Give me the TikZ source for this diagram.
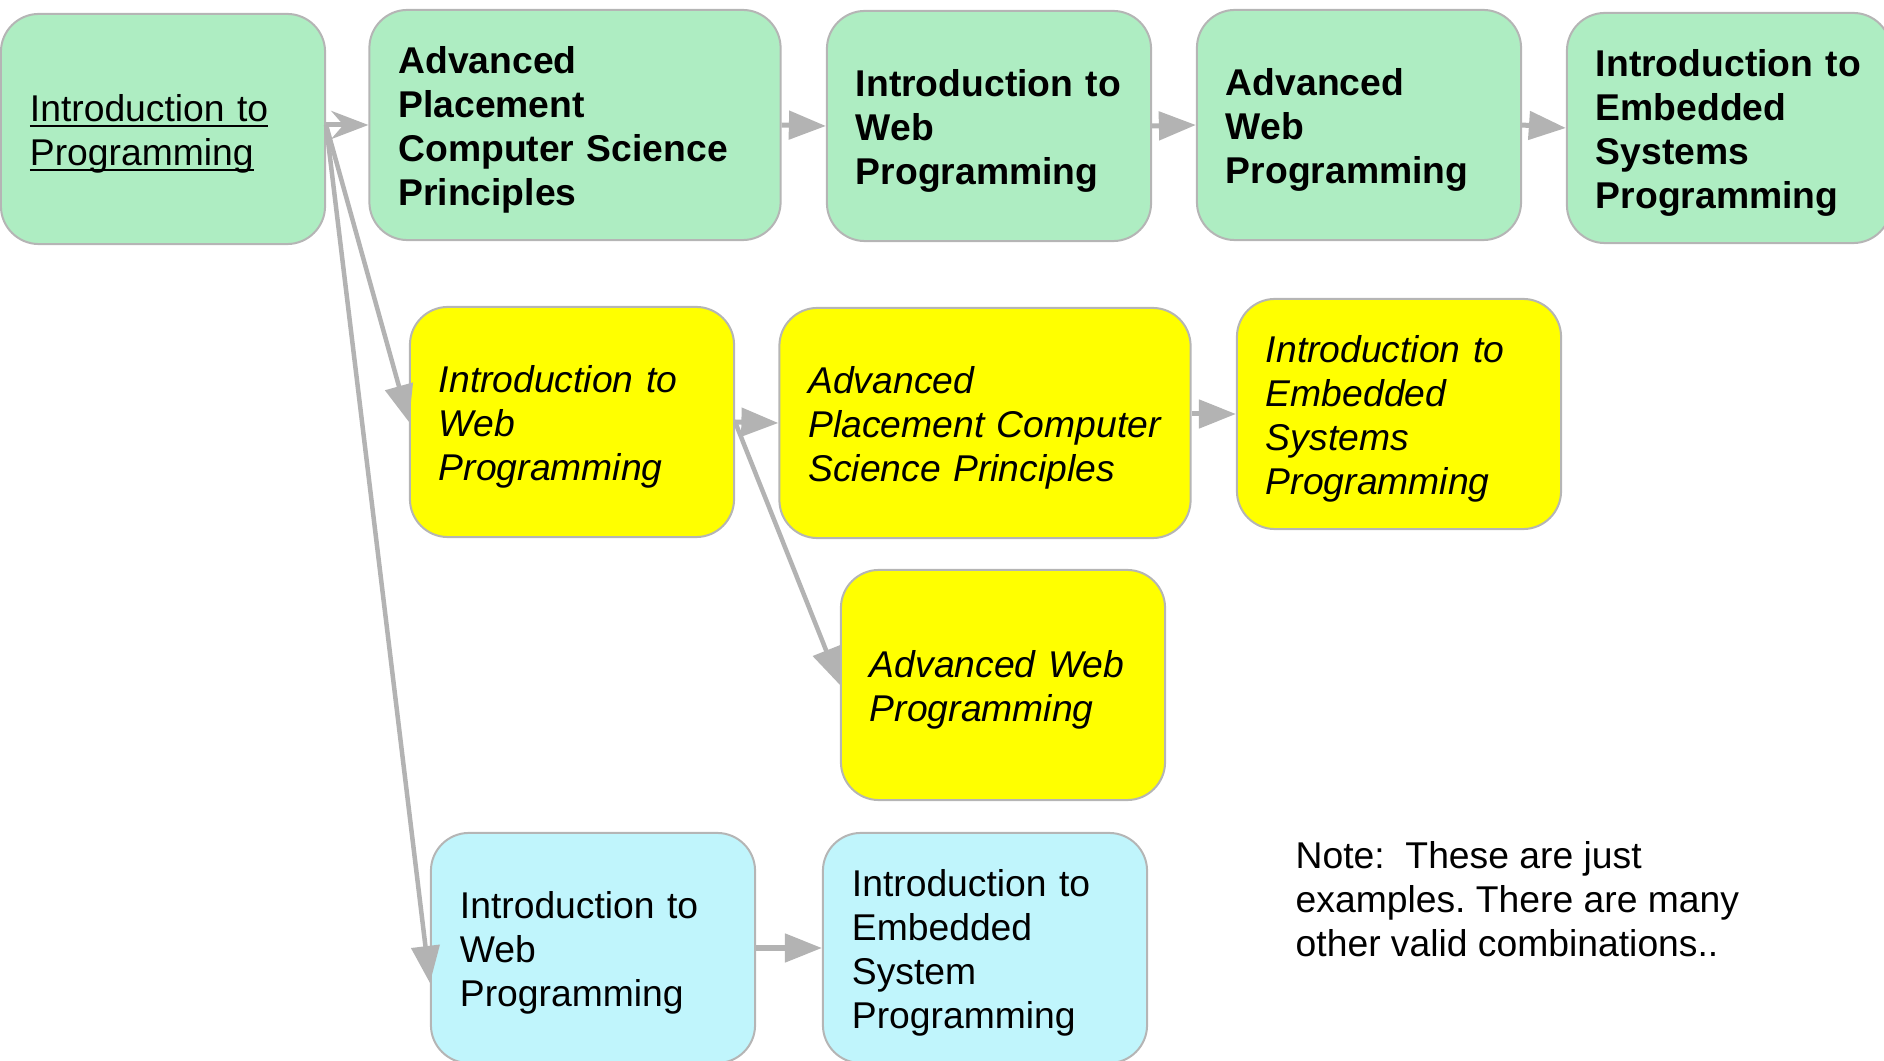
\documentclass[tikz,border=0pt]{standalone}
\usepackage{fontspec}
\setmainfont{Liberation Sans}
\usetikzlibrary{arrows.meta}

\definecolor{mint}{HTML}{AEEDC2}
\definecolor{sky}{HTML}{C0F5FC}
\definecolor{lemon}{HTML}{FFFF00}
\definecolor{rimgray}{HTML}{B5B5B5}
\definecolor{arrowgray}{HTML}{B3B3B3}
\newcommand{\coursefont}{\fontsize{10.6}{12.5}\selectfont\frenchspacing}
\newcommand{\linkline}[1]{\leavevmode\setbox0=\hbox{#1}\rlap{\rule[-1.6pt]{\wd0}{0.7pt}}\box0}

\begin{document}
\begin{tikzpicture} [x=0.01cm, y=-0.01cm,
  course/.style={draw=rimgray, line width=0.02cm, rounded corners=0.38cm,
    minimum height=2.3cm, text width=#1, inner xsep=0.29cm, inner ysep=0pt,
    align=left, font=\coursefont, execute at begin node={\rule{0pt}{10.5pt}}},
  greenbox/.style={course=#1, fill=mint, font=\coursefont\bfseries},
  yellowbox/.style={course=#1, fill=lemon, font=\coursefont\itshape},
  cyanbox/.style={course=#1, fill=sky},
  link/.style={draw=arrowgray, line width=0.05cm,
    -{Triangle[length=0.37cm, width=0.28cm]}}]
\useasboundingbox (0,0) rectangle (1884,1061);

% top row
\node[greenbox=2.66cm] (b1) at (163,129) {\mdseries\linkline{Introduction to}\\ \linkline{Programming}};
\node[greenbox=3.53cm] (b2) at (575,125) {Advanced\\ Placement\\ Computer Science\\ Principles};
\node[greenbox=2.66cm] (b3) at (989,126) {Introduction to\\ Web\\ Programming};
\node[greenbox=2.66cm] (b4) at (1359,125) {Advanced\\ Web\\ Programming};
\node[greenbox=2.66cm] (b5) at (1729,128) {Introduction to\\ Embedded\\ Systems\\ Programming};

% middle rows
\node[yellowbox=2.66cm] (y1) at (572,422) {Introduction to\\ Web\\ Programming};
\node[yellowbox=3.53cm] (y2) at (985,423) {Advanced\\ Placement Computer\\ Science Principles};
\node[yellowbox=2.66cm] (y3) at (1399,414) {Introduction to\\ Embedded\\ Systems\\ Programming};
\node[yellowbox=2.66cm] (y4) at (1003,685) {Advanced Web\\ Programming};

% bottom row
\node[cyanbox=2.66cm] (c1) at (593,948) {Introduction to\\ Web\\ Programming};
\node[cyanbox=2.66cm] (c2) at (985,948) {Introduction to\\ Embedded\\ System\\ Programming};

\node[anchor=west, align=left, inner sep=0pt, font=\coursefont] (note) at (1295,899)
  {Note:~ These are just\\ examples. There are many\\ other valid combinations..};

\coordinate (fork) at (b1.east |- b2.west);
\draw[link, -{Stealth[length=0.37cm, width=0.28cm, inset=0.12cm]}] (fork) -- (b2.west);
\draw[link, line width=0.045cm] (fork) -- (y1.west);
\draw[link, line width=0.045cm] (fork) -- ([yshift=-0.35cm]c1.west);
\foreach \a/\b in {b2/b3, b3/b4, b4/b5, y1/y2, c1/c2} {
 \draw[link] (\a.east) -- (\b.west);
}
\draw[link, line width=0.045cm] (y1.east) -- (y4.west);
\draw[link] (y2.east |- y3.west) -- (y3.west);
\end{tikzpicture}
\end{document}
